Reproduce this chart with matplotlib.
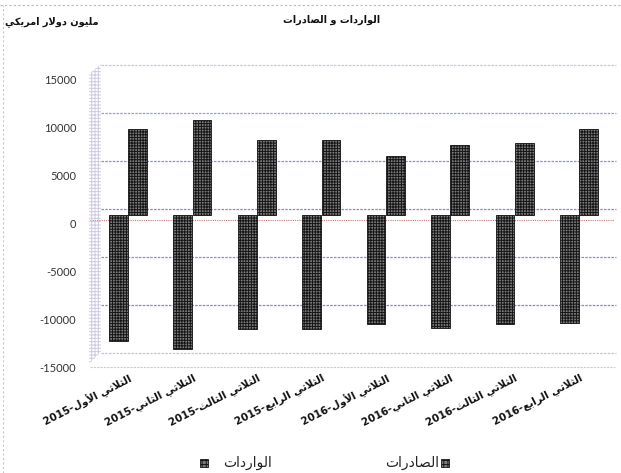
import matplotlib.pyplot as plt
import matplotlib.transforms as mtransforms
from matplotlib.patches import Polygon, Rectangle
import numpy as np

# quarterly trade, million US dollars
years = ['2015'] * 4 + ['2016'] * 4
quarters = ['الثلاثي الأول', 'الثلاثي الثاني', 'الثلاثي الثالث', 'الثلاثي الرابع'] * 2
exports = [9000, 9900, 7800, 7800, 6100, 7300, 7500, 9000]
imports = [-13100, -14000, -11900, -11900, -11400, -11800, -11400, -11300]

title_txt = 'الواردات و الصادرات'
unit_txt = 'مليون دولار امريكي'
imports_name = 'الواردات'
exports_name = 'الصادرات'

# arabic presentation forms: isolated, final, initial, medial
FORMS = {
    'ا': ('\uFE8D', '\uFE8E', None, None),
    'أ': ('\uFE83', '\uFE84', None, None),
    'ب': ('\uFE8F', '\uFE90', '\uFE91', '\uFE92'),
    'ت': ('\uFE95', '\uFE96', '\uFE97', '\uFE98'),
    'ث': ('\uFE99', '\uFE9A', '\uFE9B', '\uFE9C'),
    'د': ('\uFEA9', '\uFEAA', None, None),
    'ر': ('\uFEAD', '\uFEAE', None, None),
    'ص': ('\uFEB9', '\uFEBA', '\uFEBB', '\uFEBC'),
    'ع': ('\uFEC9', '\uFECA', '\uFECB', '\uFECC'),
    'ك': ('\uFED9', '\uFEDA', '\uFEDB', '\uFEDC'),
    'ل': ('\uFEDD', '\uFEDE', '\uFEDF', '\uFEE0'),
    'م': ('\uFEE1', '\uFEE2', '\uFEE3', '\uFEE4'),
    'ن': ('\uFEE5', '\uFEE6', '\uFEE7', '\uFEE8'),
    'و': ('\uFEED', '\uFEEE', None, None),
    'ي': ('\uFEF1', '\uFEF2', '\uFEF3', '\uFEF4'),
}
LAM_ALEF = {'ا': ('\uFEFB', '\uFEFC'), 'أ': ('\uFEF7', '\uFEF8')}


def joins_next(c):
    return c in FORMS and FORMS[c][2] is not None


def shape(s):
    out = []
    i = 0
    while i < len(s):
        c = s[i]
        prev_joins = i > 0 and joins_next(s[i - 1])
        if c not in FORMS:
            out.append(c)
            i += 1
            continue
        if c == 'ل' and i + 1 < len(s) and s[i + 1] in LAM_ALEF:
            out.append(LAM_ALEF[s[i + 1]][1 if prev_joins else 0])
            i += 2
            continue
        nxt = joins_next(c) and i + 1 < len(s) and s[i + 1] in FORMS
        if prev_joins and nxt:
            out.append(FORMS[c][3])
        elif prev_joins:
            out.append(FORMS[c][1])
        elif nxt:
            out.append(FORMS[c][2])
        else:
            out.append(FORMS[c][0])
        i += 1
    return ''.join(out)


def rtl(s):
    return shape(s)[::-1]


cat_labels = [y + '-' + rtl(q) for q, y in zip(quarters, years)]

plt.rcParams['hatch.linewidth'] = 0.7

fig = plt.figure(figsize=(6.21, 4.73), dpi=100)
W, H = 621, 473


def fx(px):
    return px / W


def fy(py):
    return 1 - py / H


ax = fig.add_axes([fx(90), fy(367), fx(615) - fx(90), fy(79) - fy(367)])
ax.set_xlim(-0.59, 7.56)
ax.set_ylim(-15000, 15000)
for s in ax.spines.values():
    s.set_visible(False)

# depth offsets for the pseudo-3d look
depth = mtransforms.ScaledTranslation(0, 0.08, fig.dpi_scale_trans)
back = mtransforms.ScaledTranslation(0.11, 0.14, fig.dpi_scale_trans)

yt = np.arange(-15000, 15001, 5000)
grid_cols = ['#c4c4dc', '#8a86cc', '#8c8cd4', '#9a80cc', '#7f94d8', '#8aa0dc', '#c4c8e4']
gt = ax.get_yaxis_transform() + back
for v, col in zip(yt, grid_cols):
    ax.plot([0, 0.98], [v, v], transform=gt, color=col, lw=0.9,
            ls=(0, (2, 1)), clip_on=False, zorder=1)
# front zero line
ax.plot([0, 1], [0, 0], transform=ax.get_yaxis_transform() + mtransforms.ScaledTranslation(0, 0.03, fig.dpi_scale_trans),
        color='#c07878', lw=0.8, ls=(0, (1, 1)), zorder=1)
ax.plot([0, 1], [-15000, -15000], transform=ax.get_yaxis_transform(),
        color='#c8cce0', lw=0.8, ls=(0, (2, 1)), clip_on=False, zorder=1)

# side wall
wall = Polygon([(fx(89), fy(74)), (fx(101), fy(64)), (fx(101), fy(352)), (fx(89), fy(364))],
               closed=True, transform=fig.transFigure, facecolor='none',
               edgecolor='#cfcbe0', hatch='+++++', lw=0)
fig.patches.append(wall)

x = np.arange(len(exports))
w = 0.29
b_imp = ax.bar(x - 0.15, imports, w, color='#7a7a7a', edgecolor='#151515',
               hatch='++++++', lw=0.6, zorder=3)
b_exp = ax.bar(x + 0.15, exports, w, color='#7a7a7a', edgecolor='#151515',
               hatch='++++++', lw=0.6, zorder=2)
for p in list(b_imp) + list(b_exp):
    p.set_transform(ax.transData + depth)

ax.set_yticks(yt)
ax.set_yticklabels([str(v) for v in yt], family='Lato', fontsize=8, color='#333333')
ax.set_xticks(x)
ax.set_xticklabels(cat_labels, rotation=27, ha='right', va='top', rotation_mode='anchor',
                   family='DejaVu Sans', fontsize=7.5, fontweight='bold', color='#111111')
ax.tick_params(axis='both', length=0)
ax.tick_params(axis='y', pad=10)
ax.tick_params(axis='x', pad=4)

fig.text(fx(332), fy(20), rtl(title_txt), ha='center', va='center',
         family='DejaVu Sans', fontsize=7, fontweight='bold', color='#111111')
fig.text(fx(52), fy(22), rtl(unit_txt), ha='center', va='center',
         family='DejaVu Sans', fontsize=7, fontweight='bold', color='#111111')

# legend row
fig.text(fx(247), fy(463), rtl(imports_name), ha='center', va='center',
         family='DejaVu Sans', fontsize=10, color='#222222')
fig.text(fx(412), fy(463), rtl(exports_name), ha='center', va='center',
         family='DejaVu Sans', fontsize=10, color='#222222')
for mx in (200, 441):
    fig.patches.append(Rectangle((fx(mx), fy(467)), fx(8), 8 / H, transform=fig.transFigure,
                                 facecolor='#7a7a7a', edgecolor='#151515', hatch='++++', lw=0.6))

# chart frame
fig.add_artist(plt.Line2D([0, 1], [fy(5), fy(5)], transform=fig.transFigure,
                          color='#b8b8b8', lw=0.8, ls=(0, (2, 2))))
fig.add_artist(plt.Line2D([fx(3), fx(3)], [0, fy(5)], transform=fig.transFigure,
                          color='#c8c8c8', lw=0.8, ls=(0, (2, 2))))

fig.savefig('out.png', dpi=100)
